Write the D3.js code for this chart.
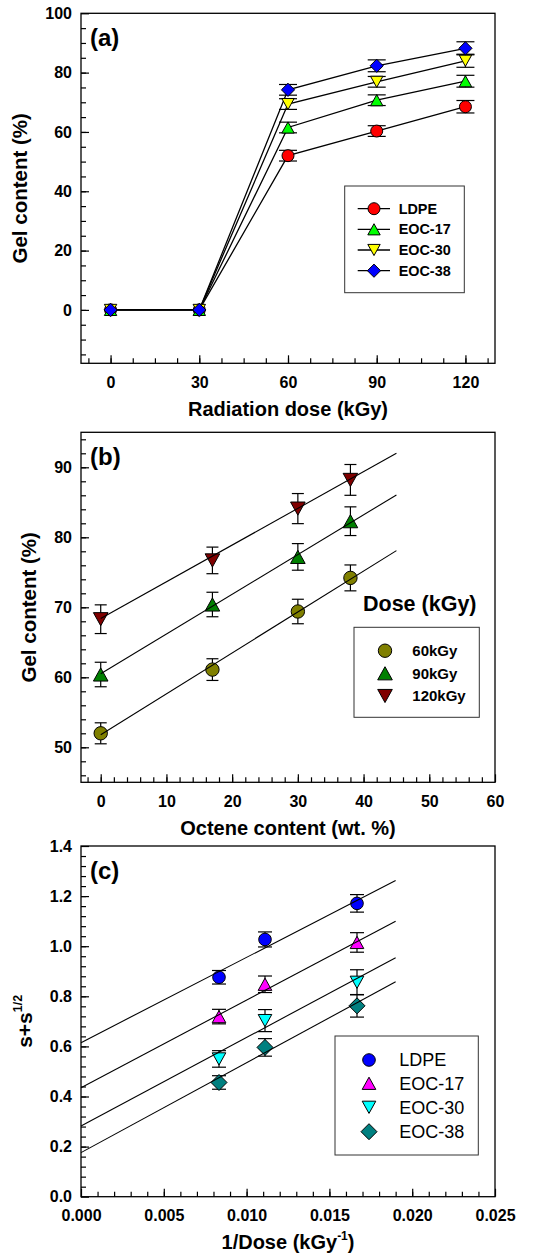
<!DOCTYPE html>
<html><head><meta charset="utf-8">
<script src="https://cdn.jsdelivr.net/npm/d3@7"></script>
<style>body{margin:0;background:#fff} text{font-family:"Liberation Sans",Arial,sans-serif}</style>
</head><body><svg id="chart" width="544" height="1257"></svg>
<script>
// ---------- Panel (a) data ----------
const doseA = [0, 30, 60, 90, 120];
const namesA = ["LDPE", "EOC-17", "EOC-30", "EOC-38"];
const gelA_LDPE  = [0, 0, 52.0, 60.3, 68.5];
const gelA_EOC17 = [0, 0, 61.5, 70.7, 77.1];
const gelA_EOC30 = [0, 0, 69.4, 76.9, 84.0];
const gelA_EOC38 = [0, 0, 74.2, 82.3, 88.2];
const errA_LDPE  = [0, 0, 1.8, 1.8, 2.1];
const errA_EOC17 = [0, 0, 1.8, 1.8, 2.0];
const errA_EOC30 = [0, 0, 1.8, 1.8, 2.2];
const errA_EOC38 = [0, 0, 1.8, 2.0, 2.2];
const xTicksA = [0, 30, 60, 90, 120];
const yTicksA = [0, 20, 40, 60, 80, 100];

// ---------- Panel (b) data ----------
const octeneB = [0, 17, 30, 38];
const namesB = ["60kGy", "90kGy", "120kGy"];
const gelB_60  = [52.0, 61.1, 69.4, 74.2];
const gelB_90  = [60.4, 70.4, 77.2, 82.3];
const gelB_120 = [68.3, 76.7, 84.1, 88.2];
const errB_60  = [1.5, 1.55, 1.75, 1.85];
const errB_90  = [1.75, 1.75, 1.9, 2.05];
const errB_120 = [2.05, 1.9, 2.15, 2.2];
const fitXB = [0, 45];
const fitB_60  = [51.8, 78.1];
const fitB_90  = [60.5, 86.05];
const fitB_120 = [68.4, 92.0];
const xTicksB = [0, 10, 20, 30, 40, 50, 60];
const yTicksB = [50, 60, 70, 80, 90];

// ---------- Panel (c) data ----------
const invDoseC = [1/120, 1/90, 1/60];
const namesC = ["LDPE", "EOC-17", "EOC-30", "EOC-38"];
const solC_LDPE  = [0.876, 1.027, 1.171];
const solC_EOC17 = [0.719, 0.848, 1.015];
const solC_EOC30 = [0.550, 0.703, 0.856];
const solC_EOC38 = [0.456, 0.596, 0.762];
const errC_LDPE  = [0.027, 0.030, 0.035];
const errC_EOC17 = [0.029, 0.033, 0.039];
const errC_EOC30 = [0.033, 0.044, 0.050];
const errC_EOC38 = [0.027, 0.035, 0.045];
const fitXC = [0, 0.019];
const fitC_LDPE  = [0.615, 1.262];
const fitC_EOC17 = [0.435, 1.100];
const fitC_EOC30 = [0.282, 0.954];
const fitC_EOC38 = [0.176, 0.858];
const xTicksC = [0, 0.005, 0.010, 0.015, 0.020, 0.025];
const yTicksC = [0, 0.2, 0.4, 0.6, 0.8, 1.0, 1.2, 1.4];

// ---------- drawing ----------
const svg = d3.select("#chart");
const L = 81, R = 495;

function shape(type, r) {
  const p = d3.path();
  if (type === "circle") { p.moveTo(r, 0); p.arc(0, 0, r, 0, 2 * Math.PI); }
  else if (type === "up") { p.moveTo(0, -0.9 * r); p.lineTo(r, 0.9 * r); p.lineTo(-r, 0.9 * r); p.closePath(); }
  else if (type === "down") { p.moveTo(0, 0.9 * r); p.lineTo(r, -0.9 * r); p.lineTo(-r, -0.9 * r); p.closePath(); }
  else if (type === "diamond") { p.moveTo(0, -r); p.lineTo(r, 0); p.lineTo(0, r); p.lineTo(-r, 0); p.closePath(); }
  return p.toString();
}

function minorRange(a, b, step) {
  const out = []; const n = Math.round((b - a) / step);
  for (let i = 0; i <= n; i++) out.push(+(a + i * step).toFixed(6));
  return out;
}

function frame(cfg) {
  const g = svg.append("g");
  const x = d3.scaleLinear().domain(cfg.xDom).range([L, R]);
  const y = d3.scaleLinear().domain(cfg.yDom).range([cfg.bottom, cfg.top]);
  g.append("g").attr("transform", `translate(0,${cfg.bottom})`)
    .call(d3.axisBottom(x).tickValues(cfg.xMinor).tickSize(-5).tickFormat(""))
    .call(s => s.select(".domain").remove());
  g.append("g").attr("transform", `translate(${L},0)`)
    .call(d3.axisLeft(y).tickValues(cfg.yMinor).tickSize(-5).tickFormat(""))
    .call(s => s.select(".domain").remove());
  const xa = g.append("g").attr("transform", `translate(0,${cfg.bottom})`)
    .call(d3.axisBottom(x).tickValues(cfg.xTicks).tickSize(-8).tickPadding(13).tickFormat(cfg.xFmt));
  xa.select(".domain").remove();
  const ya = g.append("g").attr("transform", `translate(${L},0)`)
    .call(d3.axisLeft(y).tickValues(cfg.yTicks).tickSize(-8).tickPadding(9).tickFormat(cfg.yFmt));
  ya.select(".domain").remove();
  g.selectAll(".tick line").attr("stroke", "#000").attr("stroke-width", 1.2);
  g.selectAll(".tick text").attr("font-size", 16).attr("font-weight", "bold")
    .attr("font-family", '"Liberation Sans",Arial,sans-serif').attr("fill", "#000");
  g.append("rect").attr("x", L).attr("y", cfg.top).attr("width", R - L).attr("height", cfg.bottom - cfg.top)
    .attr("fill", "none").attr("stroke", "#000").attr("stroke-width", 1.3);
  g.append("text").attr("x", 90).attr("y", cfg.top + 32.5).attr("font-size", 24).attr("font-weight", "bold").text(cfg.label);
  return { x, y, g };
}

function errBars(g, x, y, xs, ys, es, cap) {
  xs.forEach((xv, i) => {
    if (!es[i]) return;
    const cx = x(xv), y0 = y(ys[i] - es[i]), y1 = y(ys[i] + es[i]);
    g.append("line").attr("x1", cx).attr("x2", cx).attr("y1", y0).attr("y2", y1).attr("stroke", "#000").attr("stroke-width", 1.2);
    [y0, y1].forEach(yy => g.append("line").attr("x1", cx - cap).attr("x2", cx + cap).attr("y1", yy).attr("y2", yy).attr("stroke", "#000").attr("stroke-width", 1.2));
  });
}

function markers(g, x, y, xs, ys, type, r, fill) {
  g.selectAll(null).data(xs.map((xv, i) => [xv, ys[i]])).enter().append("path")
    .attr("d", shape(type, r)).attr("transform", d => `translate(${x(d[0])},${y(d[1])})`)
    .attr("fill", fill).attr("stroke", "#000").attr("stroke-width", 1);
}

// ===== Panel (a) =====
{
  const cfg = { xDom: [-10, 130], yDom: [-18, 100], top: 13.3, bottom: 363.3,
    xTicks: xTicksA, yTicks: yTicksA, xMinor: minorRange(-7.5, 127.5, 7.5), yMinor: minorRange(-15, 95, 5),
    xFmt: d3.format("d"), yFmt: d3.format("d"), label: "(a)" };
  const { x, y, g } = frame(cfg);
  const sets = [
    { v: gelA_LDPE, e: errA_LDPE, t: "circle", r: 6, c: "#ff0000" },
    { v: gelA_EOC17, e: errA_EOC17, t: "up", r: 6.2, c: "#00ff00" },
    { v: gelA_EOC30, e: errA_EOC30, t: "down", r: 6.2, c: "#ffff00" },
    { v: gelA_EOC38, e: errA_EOC38, t: "diamond", r: 6.6, c: "#0000ff" }];
  const line = d3.line().x(d => x(d[0])).y(d => y(d[1]));
  sets.forEach(s => g.append("path").attr("d", line(doseA.map((d, i) => [d, s.v[i]])))
    .attr("fill", "none").attr("stroke", "#000").attr("stroke-width", 1.3));
  sets.forEach(s => errBars(g, x, y, doseA, s.v, s.e, 9));
  sets.forEach(s => markers(g, x, y, doseA, s.v, s.t, s.r, s.c));
  const lg = g.append("g");
  lg.append("rect").attr("x", 344.7).attr("y", 186).attr("width", 119.6).attr("height", 106.7)
    .attr("fill", "#fff").attr("stroke", "#333").attr("stroke-width", 1);
  const rows = [208.7, 229.3, 250, 270.7];
  sets.forEach((s, i) => {
    lg.append("line").attr("x1", 357.7).attr("x2", 390).attr("y1", rows[i]).attr("y2", rows[i]).attr("stroke", "#000").attr("stroke-width", 1.3);
    lg.append("path").attr("d", shape(s.t, s.r)).attr("transform", `translate(374,${rows[i]})`).attr("fill", s.c).attr("stroke", "#000");
    lg.append("text").attr("x", 398.7).attr("y", rows[i]).attr("dy", "0.36em").attr("font-size", 14.4).attr("font-weight", "bold").text(namesA[i]);
  });
  g.append("text").attr("x", (L + R) / 2).attr("y", 415.5).attr("text-anchor", "middle").attr("font-size", 20).attr("font-weight", "bold").text("Radiation dose (kGy)");
  g.append("text").attr("transform", `translate(26.5,${(cfg.top + cfg.bottom) / 2}) rotate(-90)`).attr("text-anchor", "middle").attr("font-size", 20.5).attr("font-weight", "bold").text("Gel content (%)");
}

// ===== Panel (b) =====
{
  const cfg = { xDom: [-3, 60], yDom: [45, 95], top: 432.3, bottom: 782.3,
    xTicks: xTicksB, yTicks: yTicksB, xMinor: minorRange(-2, 58, 2), yMinor: minorRange(46, 94, 2),
    xFmt: d3.format("d"), yFmt: d3.format("d"), label: "(b)" };
  const { x, y, g } = frame(cfg);
  const sets = [
    { v: gelB_60, e: errB_60, f: fitB_60, t: "circle", r: 6.7, c: "#808000" },
    { v: gelB_90, e: errB_90, f: fitB_90, t: "up", r: 7.3, c: "#008000" },
    { v: gelB_120, e: errB_120, f: fitB_120, t: "down", r: 7.3, c: "#800000" }];
  sets.forEach(s => errBars(g, x, y, octeneB, s.v, s.e, 6));
  sets.forEach(s => markers(g, x, y, octeneB, s.v, s.t, s.r, s.c));
  const line = d3.line().x(d => x(d[0])).y(d => y(d[1]));
  sets.forEach(s => g.append("path").attr("d", line(fitXB.map((d, i) => [d, s.f[i]])))
    .attr("fill", "none").attr("stroke", "#000").attr("stroke-width", 1.1));
  const lg = g.append("g");
  lg.append("text").attr("x", 363).attr("y", 610.5).attr("font-size", 21.5).attr("font-weight", "bold").text("Dose (kGy)");
  lg.append("rect").attr("x", 354).attr("y", 627.3).attr("width", 125.3).attr("height", 90)
    .attr("fill", "#fff").attr("stroke", "#333").attr("stroke-width", 1);
  const rows = [650.7, 673.3, 696];
  sets.forEach((s, i) => {
    lg.append("path").attr("d", shape(s.t, s.r)).attr("transform", `translate(385,${rows[i]})`).attr("fill", s.c).attr("stroke", "#000");
    lg.append("text").attr("x", 412.3).attr("y", rows[i]).attr("dy", "0.36em").attr("font-size", 15).attr("font-weight", "bold").text(namesB[i]);
  });
  g.append("text").attr("x", (L + R) / 2).attr("y", 834.5).attr("text-anchor", "middle").attr("font-size", 20).attr("font-weight", "bold").text("Octene content (wt. %)");
  g.append("text").attr("transform", `translate(36,${(cfg.top + cfg.bottom) / 2}) rotate(-90)`).attr("text-anchor", "middle").attr("font-size", 20.5).attr("font-weight", "bold").text("Gel content (%)");
}

// ===== Panel (c) =====
{
  const cfg = { xDom: [0, 0.025], yDom: [0, 1.4], top: 846, bottom: 1196.7,
    xTicks: xTicksC, yTicks: yTicksC, xMinor: minorRange(0.001, 0.024, 0.001), yMinor: minorRange(0.04, 1.36, 0.04),
    xFmt: d3.format(".3f"), yFmt: d3.format(".1f"), label: "(c)" };
  const { x, y, g } = frame(cfg);
  const sets = [
    { v: solC_LDPE, e: errC_LDPE, f: fitC_LDPE, t: "circle", r: 6.3, c: "#0000ff" },
    { v: solC_EOC17, e: errC_EOC17, f: fitC_EOC17, t: "up", r: 6.8, c: "#ff00ff" },
    { v: solC_EOC30, e: errC_EOC30, f: fitC_EOC30, t: "down", r: 6.8, c: "#00ffff" },
    { v: solC_EOC38, e: errC_EOC38, f: fitC_EOC38, t: "diamond", r: 8, c: "#008080" }];
  sets.forEach(s => errBars(g, x, y, invDoseC, s.v, s.e, 7));
  sets.forEach(s => markers(g, x, y, invDoseC, s.v, s.t, s.r, s.c));
  const line = d3.line().x(d => x(d[0])).y(d => y(d[1]));
  sets.forEach(s => g.append("path").attr("d", line(fitXC.map((d, i) => [d, s.f[i]])))
    .attr("fill", "none").attr("stroke", "#000").attr("stroke-width", 1.1));
  const lg = g.append("g");
  lg.append("rect").attr("x", 335).attr("y", 1036).attr("width", 143.3).attr("height", 119)
    .attr("fill", "#fff").attr("stroke", "#333").attr("stroke-width", 1);
  const rows = [1060, 1083.3, 1107.3, 1131.7];
  sets.forEach((s, i) => {
    lg.append("path").attr("d", shape(s.t, s.r)).attr("transform", `translate(369,${rows[i]})`).attr("fill", s.c).attr("stroke", "#000");
    lg.append("text").attr("x", 399.3).attr("y", rows[i]).attr("dy", "0.36em").attr("font-size", 18).text(namesC[i]);
  });
  const xt = g.append("text").attr("x", (L + R) / 2).attr("y", 1248.5).attr("text-anchor", "middle").attr("font-size", 20).attr("font-weight", "bold");
  xt.append("tspan").text("1/Dose (kGy");
  xt.append("tspan").attr("font-size", 12).attr("dy", -9).text("-1");
  xt.append("tspan").attr("dy", 9).text(")");
  const yt = g.append("text").attr("transform", `translate(31.5,${(cfg.top + cfg.bottom) / 2}) rotate(-90)`).attr("text-anchor", "middle").attr("font-size", 21).attr("font-weight", "bold");
  yt.append("tspan").text("s+s");
  yt.append("tspan").attr("font-size", 12.5).attr("dy", -10).text("1/2");
}
</script></body></html>
